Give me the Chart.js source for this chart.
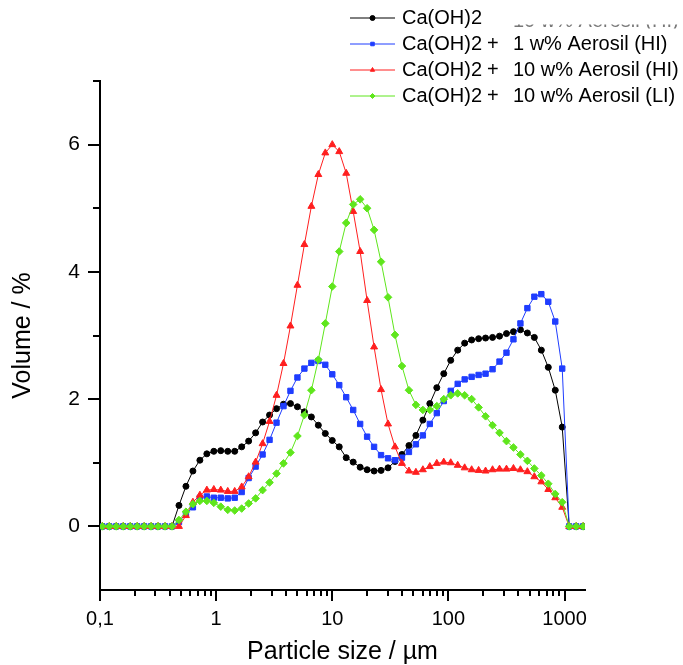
<!DOCTYPE html>
<html>
<head>
<meta charset="utf-8">
<script src="https://cdn.jsdelivr.net/npm/chart.js@4.4.1/dist/chart.umd.min.js"></script>
<style>
  body { margin: 0; background: #fff; }
  #grafik { display: block; }
</style>
</head>
<body>
<canvas id="grafik" width="683" height="665"></canvas>
<script>
// particle size classes (µm)
const sizes = [0.1047, 0.1202, 0.1380, 0.1585, 0.1820, 0.2089, 0.2399, 0.2754, 0.3162, 0.3631,
  0.4169, 0.4786, 0.5495, 0.6310, 0.7244, 0.8318, 0.9550, 1.096, 1.259, 1.445,
  1.660, 1.905, 2.188, 2.512, 2.884, 3.311, 3.802, 4.365, 5.012, 5.754,
  6.607, 7.586, 8.710, 10.00, 11.48, 13.18, 15.14, 17.38, 19.95, 22.91,
  26.30, 30.20, 34.67, 39.81, 45.71, 52.48, 60.26, 69.18, 79.43, 91.20,
  104.7, 120.2, 138.0, 158.5, 182.0, 208.9, 239.9, 275.4, 316.2, 363.1,
  416.9, 478.6, 549.5, 631.0, 724.4, 831.8, 955.0, 1096, 1259, 1445];

const caOH2 = [0, 0, 0, 0, 0, 0, 0, 0, 0, 0,
  0, 0.33, 0.63, 0.87, 1.04, 1.14, 1.18, 1.19, 1.18, 1.18,
  1.25, 1.34, 1.47, 1.64, 1.75, 1.85, 1.92, 1.93, 1.88, 1.80,
  1.72, 1.59, 1.46, 1.35, 1.25, 1.08, 1.01, 0.93, 0.89, 0.87,
  0.88, 0.92, 1.02, 1.13, 1.27, 1.43, 1.67, 1.93, 2.18, 2.40,
  2.61, 2.77, 2.88, 2.93, 2.95, 2.96, 2.97, 2.99, 3.03, 3.06,
  3.09, 3.04, 2.97, 2.77, 2.50, 2.14, 1.56, 0, 0, 0];

const aerosil1HI = [0, 0, 0, 0, 0, 0, 0, 0, 0, 0,
  0, 0.07, 0.20, 0.30, 0.45, 0.47, 0.45, 0.45, 0.44, 0.45,
  0.54, 0.76, 0.94, 1.13, 1.36, 1.63, 1.89, 2.13, 2.34, 2.48,
  2.57, 2.60, 2.54, 2.39, 2.22, 2.03, 1.83, 1.61, 1.41, 1.25,
  1.12, 1.07, 1.04, 1.08, 1.17, 1.29, 1.43, 1.61, 1.78, 1.97,
  2.13, 2.24, 2.31, 2.35, 2.38, 2.40, 2.47, 2.59, 2.73, 2.94,
  3.19, 3.43, 3.61, 3.65, 3.53, 3.22, 2.48, 0, 0, 0];

const aerosil10HI = [0, 0, 0, 0, 0, 0, 0, 0, 0, 0,
  0, 0, 0.17, 0.38, 0.49, 0.57, 0.58, 0.57, 0.55, 0.55,
  0.62, 0.78, 1.01, 1.30, 1.65, 2.06, 2.56, 3.15, 3.79, 4.43,
  5.03, 5.53, 5.87, 6.00, 5.89, 5.55, 4.95, 4.32, 3.55, 2.82,
  2.15, 1.61, 1.25, 0.99, 0.87, 0.85, 0.89, 0.94, 0.99, 1.01,
  1.00, 0.96, 0.92, 0.89, 0.88, 0.87, 0.89, 0.90, 0.90, 0.91,
  0.89, 0.86, 0.78, 0.70, 0.58, 0.45, 0.30, 0, 0, 0];

const aerosil10LI = [0, 0, 0, 0, 0, 0, 0, 0, 0, 0,
  0, 0.10, 0.23, 0.35, 0.40, 0.40, 0.37, 0.31, 0.26, 0.25,
  0.28, 0.36, 0.44, 0.57, 0.69, 0.83, 0.99, 1.16, 1.42, 1.75,
  2.14, 2.62, 3.19, 3.77, 4.32, 4.77, 5.06, 5.14, 5.00, 4.66,
  4.16, 3.60, 3.01, 2.52, 2.14, 1.91, 1.83, 1.83, 1.89, 2.00,
  2.06, 2.09, 2.06, 2.00, 1.87, 1.73, 1.59, 1.47, 1.34, 1.24,
  1.13, 1.03, 0.91, 0.80, 0.67, 0.51, 0.38, 0, 0, 0];

const labels = ['Ca(OH)2', 'Ca(OH)2 +  1 w% Aerosil (HI)', 'Ca(OH)2 +  10 w% Aerosil (HI)', 'Ca(OH)2 +  10 w% Aerosil (LI)'];
// half-hidden legend text peeking out behind the first entry
const ghostLabel = '10 w% Aerosil (HI)';
const xTickLabels = ['0,1', '1', '10', '100', '1000'];
const yTickLabels = ['0', '2', '4', '6'];

const fontArial = 'Arial, "Liberation Sans", sans-serif';

function titik(vals) {
  return vals.map((v, i) => ({ x: sizes[i], y: v }));
}

function seri(label, vals, warna, gaya, r, urut) {
  return {
    label: label,
    data: titik(vals),
    showLine: true,
    borderColor: warna,
    backgroundColor: warna,
    borderWidth: 1,
    pointStyle: gaya,
    pointRadius: r,
    pointBorderWidth: 1,
    pointBorderColor: warna,
    pointBackgroundColor: warna,
    order: urut
  };
}

function mantisa(v) {
  const e = Math.floor(Math.log10(v) + 1e-9);
  return v / Math.pow(10, e);
}

// tick marks drawn by hand: long for labelled values, short for the rest
const tickPlugin = {
  id: 'tickManual',
  afterDraw(chart) {
    const ctx = chart.ctx;
    const xs = chart.scales.x;
    const ys = chart.scales.y;
    const area = chart.chartArea;
    ctx.save();
    ctx.strokeStyle = '#000';
    ctx.lineWidth = 2;
    xs.ticks.forEach(t => {
      const m = mantisa(t.value);
      if (Math.abs(m - Math.round(m)) > 1e-6) return;
      const len = Math.round(m) === 1 ? 11 : 6;
      const px = Math.round(xs.getPixelForValue(t.value));
      ctx.beginPath();
      ctx.moveTo(px, area.bottom);
      ctx.lineTo(px, area.bottom + len);
      ctx.stroke();
    });
    ys.ticks.forEach(t => {
      if (t.value <= ys.min) return;
      const len = t.value % 2 === 0 ? 12 : 7;
      const py = Math.round(ys.getPixelForValue(t.value));
      ctx.beginPath();
      ctx.moveTo(area.left, py);
      ctx.lineTo(area.left - len, py);
      ctx.stroke();
    });
    ctx.restore();
  }
};

const legendPlugin = {
  id: 'legendKanan',
  afterDraw(chart) {
    const ctx = chart.ctx;
    ctx.save();
    ctx.font = '20px ' + fontArial;
    ctx.textAlign = 'left';

    ctx.save();
    ctx.beginPath();
    ctx.rect(505, 24.5, 178, 4);
    ctx.clip();
    ctx.fillStyle = '#777';
    ctx.textBaseline = 'alphabetic';
    ctx.fillText(ghostLabel, 513, 27);
    ctx.restore();

    chart.data.datasets.forEach((ds, i) => {
      const y = 18 + i * 26;
      ctx.strokeStyle = ds.borderColor;
      ctx.fillStyle = ds.borderColor;
      ctx.lineWidth = 1;
      ctx.beginPath();
      ctx.moveTo(350, y);
      ctx.lineTo(395, y);
      ctx.stroke();
      Chart.helpers.drawPoint(ctx, { pointStyle: ds.pointStyle, radius: 2.5, borderWidth: 1, rotation: 0 }, 372.5, y);
      ctx.fillStyle = '#000';
      ctx.textBaseline = 'middle';
      const parts = ds.label.split('+');
      ctx.fillText(parts[0].trim(), 402, y);
      if (parts.length > 1) {
        ctx.fillText('+', 487, y);
        ctx.fillText(parts[1].trim(), 513, y);
      }
    });
    ctx.restore();
  }
};

const grafik = document.getElementById('grafik').getContext('2d');
new Chart(grafik, {
  type: 'scatter',
  data: {
    datasets: [
      seri(labels[0], caOH2, '#000000', 'circle', 3, 4),
      seri(labels[1], aerosil1HI, '#1f3dff', 'rect', 3.8, 3),
      seri(labels[2], aerosil10HI, '#ff1f1f', 'triangle', 4, 2),
      seri(labels[3], aerosil10LI, '#5fe61c', 'rectRot', 3.8, 1)
    ]
  },
  options: {
    responsive: false,
    animation: false,
    devicePixelRatio: 1,
    layout: { padding: { left: 0, right: 98, top: 81, bottom: 0 } },
    plugins: {
      legend: { display: false },
      tooltip: { enabled: false }
    },
    scales: {
      x: {
        type: 'logarithmic',
        position: 'bottom',
        min: 0.1,
        max: 1500,
        afterFit: s => { s.height = 75; },
        grid: { display: false, drawTicks: false },
        border: { display: true, color: '#000', width: 2 },
        ticks: {
          autoSkip: false,
          maxRotation: 0,
          padding: 17,
          color: '#000',
          font: { family: fontArial, size: 20 },
          callback: v => {
            const k = Math.log10(v);
            if (Math.abs(k - Math.round(k)) > 1e-6) return '';
            const idx = Math.round(k) + 1;
            return xTickLabels[idx] || '';
          }
        },
        title: {
          display: true,
          text: 'Particle size / µm',
          color: '#000',
          font: { family: fontArial, size: 25, lineHeight: 1 },
          padding: { top: 0, bottom: 0 }
        }
      },
      y: {
        min: -1,
        max: 7,
        afterFit: s => { s.width = 100; },
        grid: { display: false, drawTicks: false },
        border: { display: true, color: '#000', width: 2 },
        ticks: {
          stepSize: 1,
          padding: 20,
          color: '#000',
          font: { family: fontArial, size: 21 },
          callback: v => {
            if (v < 0 || v % 2 !== 0) return '';
            return yTickLabels[v / 2] || '';
          }
        },
        title: {
          display: true,
          text: 'Volume / %',
          color: '#000',
          font: { family: fontArial, size: 25, lineHeight: 1 },
          padding: { top: 11, bottom: 0 }
        }
      }
    }
  },
  plugins: [tickPlugin, legendPlugin]
});
</script>
</body>
</html>
